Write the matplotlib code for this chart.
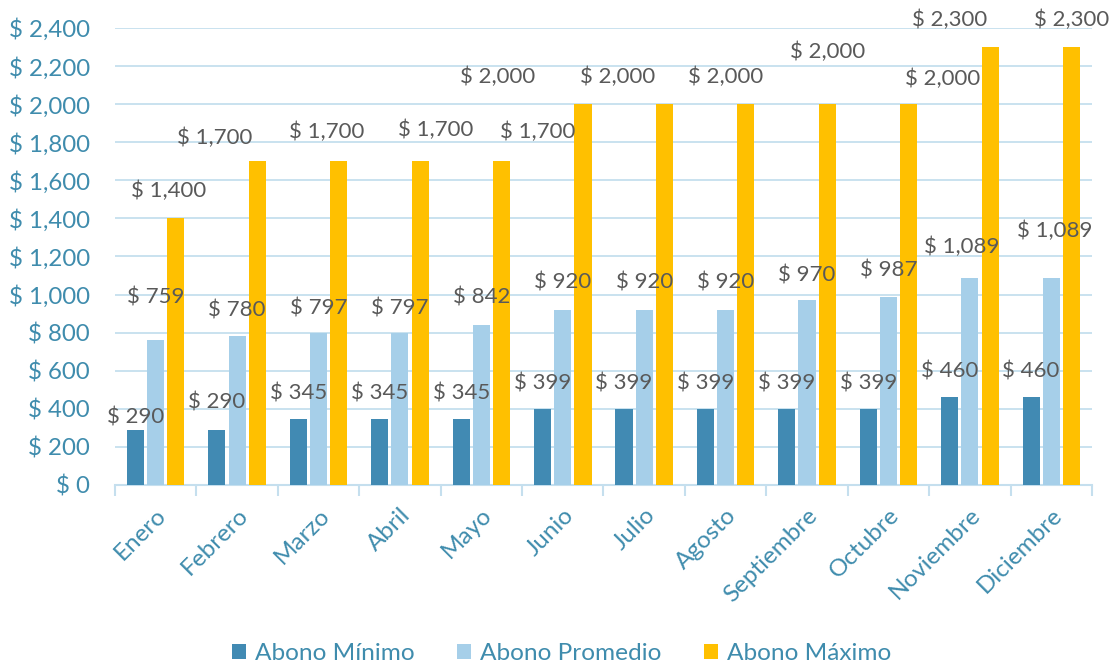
import numpy as np
import matplotlib
matplotlib.use("Agg")
import matplotlib.pyplot as plt

# === Data ===
months = ["Enero", "Febrero", "Marzo", "Abril", "Mayo", "Junio", "Julio",
          "Agosto", "Septiembre", "Octubre", "Noviembre", "Diciembre"]
abono_minimo = [290, 290, 345, 345, 345, 399, 399, 399, 399, 399, 460, 460]
abono_promedio = [759, 780, 797, 797, 842, 920, 920, 920, 970, 987, 1089, 1089]
abono_maximo = [1400, 1700, 1700, 1700, 1700, 2000, 2000, 2000, 2000, 2000, 2300, 2300]
series_names = ["Abono Mínimo", "Abono Promedio", "Abono Máximo"]
y_ticks = list(range(0, 2401, 200))

# label nudges (pixels: dx right, dy above bar top), hand-placed in the original
lab_dx = [
    [0] * 12,
    [0, 0, 0, 0, 0, 0, 0, 0, 0, 0, -8, 3],
    [-7, -43, -12, 16, 36, -85, -47, -20, 0, 34, -40, 0],
]
lab_dy = [
    [12, 27, 26, 26, 26, 26, 26, 26, 26, 26, 26, 26],
    [43, 26, 25, 25, 27, 27, 27, 27, 25, 27, 31, 47],
    [28, 23, 29, 31, 29, 27, 27, 27, 52, 25, 27, 27],
]

colors = ["#418AB3", "#A6CFE9", "#FFC000"]
teal = "#3F8CAD"
grid_c = "#C5DFEE"
label_c = "#595959"

plt.rcParams["font.family"] = ["Lato", "DejaVu Sans"]

fig = plt.figure(figsize=(11.16, 6.66), dpi=100)
ax = fig.add_axes([0.103, 0.2718, 0.8755, 0.6862])

x = np.arange(len(months))
width = 0.21
step = 0.248
px_to_pt = 0.72

for k, vals in enumerate([abono_minimo, abono_promedio, abono_maximo]):
    pos = x + (k - 1) * step
    ax.bar(pos, vals, width, color=colors[k], label=series_names[k], zorder=3)
    for i, v in enumerate(vals):
        ax.annotate(f"$ {v:,}", (pos[i], v),
                    xytext=(lab_dx[k][i] * px_to_pt, lab_dy[k][i] * px_to_pt),
                    textcoords="offset points", ha="center", va="center",
                    fontsize=16, color=label_c, zorder=4)

# === Axes styling ===
ax.set_xlim(-0.5, len(months) - 0.5)
ax.set_ylim(0, 2400)
ax.set_yticks(y_ticks)
ax.set_yticklabels([f"$ {t:,}" for t in y_ticks])
ax.yaxis.grid(True, color=grid_c, linewidth=1.3, zorder=0)
ax.tick_params(axis="y", length=0, pad=18, labelsize=17.3, labelcolor=teal)

for side in ["left", "right", "top"]:
    ax.spines[side].set_visible(False)
ax.spines["bottom"].set_color(grid_c)
ax.spines["bottom"].set_linewidth(1.5)

ax.set_xticks(x)
ax.set_xticklabels(months, rotation=45, ha="right", rotation_mode="anchor")
ax.tick_params(axis="x", length=0, pad=14, labelsize=17.5, labelcolor=teal)
ax.set_xticks(np.arange(-0.5, len(months)), minor=True)
ax.tick_params(axis="x", which="minor", length=8, width=1.5, color=grid_c)

leg = fig.legend(loc="lower center", ncol=3, frameon=False, fontsize=17.6,
                 bbox_to_anchor=(0.503, -0.03), handlelength=0.58, handleheight=0.58,
                 handletextpad=0.35, columnspacing=1.75)
for t in leg.get_texts():
    t.set_color(teal)

fig.savefig("out.png", dpi=100)
